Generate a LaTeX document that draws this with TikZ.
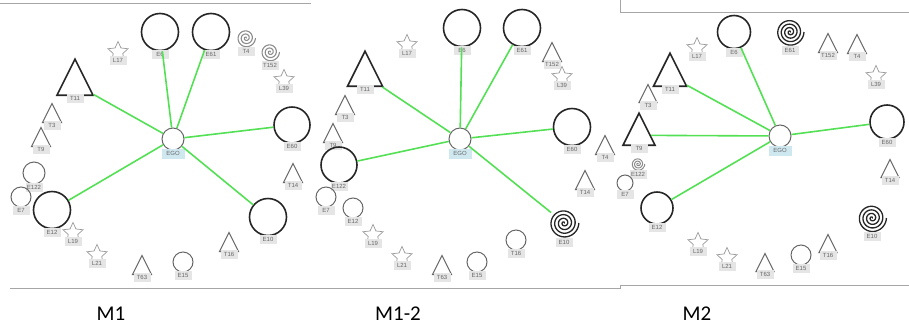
\documentclass[tikz,border=0pt]{standalone}
\usepackage{fontspec}
\setmainfont{Carlito}
\newfontfamily\tagfont{Liberation Sans}
\usetikzlibrary{shapes.geometric}
\definecolor{linkgreen}{RGB}{84,224,84}
\definecolor{egoblue}{RGB}{207,232,240}

\begin{document}
\begin{tikzpicture}[x=1pt, y=-1pt, label distance=-2pt,
	tag/.style={fill=black!10, text=black!60, font=\tagfont\fontsize{6}{6}\selectfont, inner sep=1.2pt, minimum width=17pt, minimum height=9pt},
	egotag/.style={tag, fill=egoblue, minimum width=23pt, minimum height=10pt},
	ring/.style={circle, draw=black!60, line width=1pt, minimum size=#1, inner sep=0pt},
	bigring/.style={ring=#1, draw=black!85, line width=1.6pt},
	tri/.style={isosceles triangle, isosceles triangle stretches, shape border rotate=90, anchor=south, draw=black!60, line width=1pt, minimum width=#1, minimum height=#1, inner sep=0pt},
	bigtri/.style={tri=#1, draw=black!85, line width=1.6pt},
	starnode/.style={star, star points=5, star point ratio=2.1, draw=black!40, line width=0.7pt, minimum size=21pt, inner sep=0pt},
	spiral/.style n args={3}{circle, inner sep=0pt, minimum size=#1, path picture={\draw[#3, shift={(path picture bounding box.center)}] plot[domain=0:#2, samples=160, smooth, variable=\t] (\t:{0.45*#1*(\t/#2)});}},
	links/.style={draw=linkgreen, line width=1.6pt},
	frame/.style={draw=black!35, line width=0.8pt},
	caption/.style={font=\fontsize{21}{21}\selectfont}]

	\useasboundingbox (0,0) rectangle (909,330);

	\draw[frame] (0,3) -- (311,3);
	\draw[frame] (10,288) -- (620,288) -- (620,285) -- (909,285);
	\draw[frame] (620,0) -- (620,12) -- (909,12);

	% M1
	\node[ring=22pt, label={[egotag]below:EGO}] at (173,139) (aEGO) {};
	\node[bigring=37pt, label={[tag]below:E6}] at (160,32) (aE6) {};
	\node[bigring=37pt, label={[tag]below:E61}] at (211,32) (aE61) {};
	\node[spiral={21pt}{1080}{black!45, line width=1.1pt}, label={[tag]below:T4}] at (246,38) (aT4) {};
	\node[spiral={21pt}{1080}{black!45, line width=1.1pt}, label={[tag]below:T152}] at (270,52) (aT152) {};
	\node[starnode, label={[tag]below:L39}] at (284,80) (aL39) {};
	\node[bigring=36pt, label={[tag]below:E60}] at (292,125) (aE60) {};
	\node[starnode, label={[tag]below:L17}] at (118,52) (aL17) {};
	\node[bigtri=36pt, label={[tag]below:T11}] at (75,96) (aT11) {};
	\node[tri=19pt, label={[tag]below:T3}] at (52,123) (aT3) {};
	\node[tri=19pt, label={[tag]below:T9}] at (41,147) (aT9) {};
	\node[ring=22pt, label={[tag]below:E122}] at (34,173) (aE122) {};
	\node[ring=20pt, label={[tag]below:E7}] at (21,197) (aE7) {};
	\node[bigring=37pt, label={[tag]below:E12}] at (52,210) (aE12) {};
	\node[starnode, label={[tag]below:L19}] at (73,233) (aL19) {};
	\node[starnode, label={[tag]below:L21}] at (97,255) (aL21) {};
	\node[tri=19pt, label={[tag]below:T63}] at (142,275) (aT63) {};
	\node[ring=20pt, label={[tag]below:E15}] at (183,262) (aE15) {};
	\node[tri=19pt, label={[tag]below:T16}] at (229,252) (aT16) {};
	\node[bigring=37pt, label={[tag]below:E10}] at (268,217) (aE10) {};
	\node[tri=19pt, label={[tag]below:T14}] at (293,183) (aT14) {};

	\draw[links] (aEGO) -- (aT11);
	\draw[links] (aEGO) -- (aE6);
	\draw[links] (aEGO) -- (aE61);
	\draw[links] (aEGO) -- (aE60);
	\draw[links] (aEGO) -- (aE12);
	\draw[links] (aEGO) -- (aE10);

	% M1-2
	\node[ring=22pt, label={[egotag]below:EGO}] at (460,139) (bEGO) {};
	\node[bigring=37pt, label={[tag]below:E6}] at (462,28) (bE6) {};
	\node[bigring=37pt, label={[tag]below:E61}] at (522,28) (bE61) {};
	\node[starnode, label={[tag]below:L17}] at (407,45) (bL17) {};
	\node[bigtri=35pt, label={[tag]below:T11}] at (365,87) (bT11) {};
	\node[tri=19pt, label={[tag]below:T152}] at (552,62) (bT152) {};
	\node[starnode, label={[tag]below:L39}] at (562,77) (bL39) {};
	\node[bigring=37pt, label={[tag]below:E60}] at (572,127) (bE60) {};
	\node[tri=19pt, label={[tag]below:T3}] at (345,115) (bT3) {};
	\node[tri=19pt, label={[tag]below:T9}] at (333,143) (bT9) {};
	\node[bigring=36pt, label={[tag]below:E122}] at (339,165) (bE122) {};
	\node[ring=20pt, label={[tag]below:E7}] at (326,197) (bE7) {};
	\node[ring=20pt, label={[tag]below:E12}] at (353,208) (bE12) {};
	\node[starnode, label={[tag]below:L19}] at (373,235) (bL19) {};
	\node[starnode, label={[tag]below:L21}] at (402,257) (bL21) {};
	\node[tri=19pt, label={[tag]below:T63}] at (442,275) (bT63) {};
	\node[ring=20pt, label={[tag]below:E15}] at (477,262) (bE15) {};
	\node[ring=20pt, label={[tag]below:T16}] at (516,240) (bT16) {};
	\node[spiral={33pt}{1440}{black!85, line width=1.3pt}, label={[tag]below:E10}] at (564,223) (bE10) {};
	\node[tri=19pt, label={[tag]below:T14}] at (585,190) (bT14) {};
	\node[tri=19pt, label={[tag]below:T4}] at (605,155) (bT4) {};

	\draw[links] (bEGO) -- (bT11);
	\draw[links] (bEGO) -- (bE6);
	\draw[links] (bEGO) -- (bE61);
	\draw[links] (bEGO) -- (bE60);
	\draw[links] (bEGO) -- (bE122);
	\draw[links] (bEGO) -- (bE10);

	% M2
	\node[ring=22pt, label={[egotag]below:EGO}] at (780,136) (cEGO) {};
	\node[bigring=33pt, label={[tag]below:E6}] at (734,32) (cE6) {};
	\node[spiral={31pt}{1440}{black!85, line width=1.3pt}, label={[tag]below:E61}] at (790,32) (cE61) {};
	\node[tri=19pt, label={[tag]below:T152}] at (828,53) (cT152) {};
	\node[tri=19pt, label={[tag]below:T4}] at (857,54) (cT4) {};
	\node[starnode, label={[tag]below:L39}] at (876,76) (cL39) {};
	\node[bigring=34pt, label={[tag]below:E60}] at (887,122) (cE60) {};
	\node[starnode, label={[tag]below:L17}] at (697,48) (cL17) {};
	\node[bigtri=33pt, label={[tag]below:T11}] at (670,87) (cT11) {};
	\node[tri=18pt, label={[tag]below:T3}] at (648,103) (cT3) {};
	\node[bigtri=32pt, label={[tag]below:T9}] at (639,146) (cT9) {};
	\node[spiral={15pt}{1080}{black!45, line width=1pt}, label={[tag]below:E122}] at (638,164) (cE122) {};
	\node[ring=16pt, label={[tag]below:E7}] at (625,183) (cE7) {};
	\node[bigring=32pt, label={[tag]below:E12}] at (657,208) (cE12) {};
	\node[starnode, label={[tag]below:L19}] at (698,243) (cL19) {};
	\node[starnode, label={[tag]below:L21}] at (727,258) (cL21) {};
	\node[tri=18pt, label={[tag]below:T63}] at (765,272) (cT63) {};
	\node[ring=20pt, label={[tag]below:E15}] at (801,255) (cE15) {};
	\node[tri=18pt, label={[tag]below:T16}] at (828,253) (cT16) {};
	\node[spiral={32pt}{1440}{black!85, line width=1.3pt}, label={[tag]below:E10}] at (872,218) (cE10) {};
	\node[tri=18pt, label={[tag]below:T14}] at (890,178) (cT14) {};

	\draw[links] (cEGO) -- (cT11);
	\draw[links] (cEGO) -- (cE6);
	\draw[links] (cEGO) -- (cE60);
	\draw[links] (cEGO) -- (cT9);
	\draw[links] (cEGO) -- (cE12);

	\node[caption] at (111,314) (captionA) {M1};
	\node[caption] at (398,314) (captionB) {M1-2};
	\node[caption] at (697,314) (captionC) {M2};
\end{tikzpicture}
\end{document}
